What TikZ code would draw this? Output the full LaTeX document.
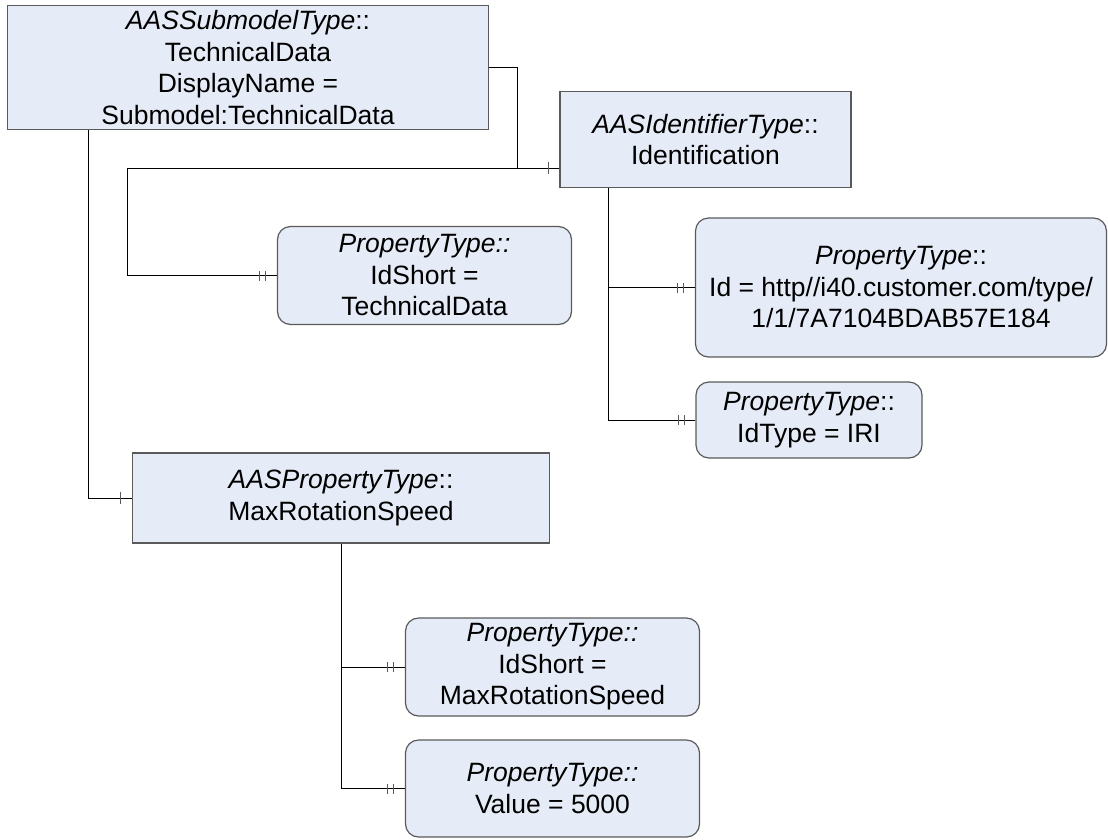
\documentclass[tikz,border=0pt]{standalone}
\usepackage{fontspec}
\setmainfont{Liberation Sans}
\usetikzlibrary{decorations.markings,calc}
\definecolor{boxfill}{HTML}{E6ECF7}
\definecolor{boxline}{HTML}{5A5A5A}
\tikzset{
  base/.style={draw=boxline, line width=1.2pt, fill=boxfill, align=center,
    inner sep=0pt, font=\fontsize{26.5}{31.5}\selectfont},
  entity/.style={base, rectangle},
  prop/.style={base, rounded corners=13pt},
  conn/.style={draw=black, line width=1pt},
  onetick/.style={postaction={decorate, decoration={markings,
    mark=at position -11pt with {\draw[line width=1pt, boxline] (0,-6pt) -- (0,6pt);}}}},
  twotick/.style={postaction={decorate, decoration={markings,
    mark=at position -11pt with {\draw[line width=1pt, boxline] (0,-5pt) -- (0,5pt);},
    mark=at position -17pt with {\draw[line width=1pt, boxline] (0,-5pt) -- (0,5pt);}}}}
}
\begin{document}
\begin{tikzpicture}[x=1pt, y=-1pt]
\useasboundingbox (0,0) rectangle (1108,839);

% nodes (centres and sizes in px)
\node[entity, minimum width=481pt, minimum height=124pt] (sub) at (248,67.5)
  {\textit{AASSubmodelType}::\\TechnicalData\\DisplayName =\\Submodel:TechnicalData};
\node[entity, minimum width=291pt, minimum height=96pt] (ident) at (705.5,139.5)
  {\textit{AASIdentifierType}::\\Identification};
\node[prop, minimum width=294pt, minimum height=98pt] (ids1) at (424.5,275.5)
  {\textit{PropertyType::}\\IdShort =\\TechnicalData};
\node[prop, minimum width=411pt, minimum height=139pt] (idb) at (901,287.5)
  {\textit{PropertyType}::\\Id = http//i40.customer.com/type/\\1/1/7A7104BDAB57E184};
\node[prop, minimum width=226pt, minimum height=76pt] (idt) at (809,420)
  {\textit{PropertyType}::\\IdType = IRI};
\node[entity, minimum width=417pt, minimum height=90pt] (maxr) at (341,498)
  {\textit{AASPropertyType}::\\MaxRotationSpeed};
\node[prop, minimum width=294pt, minimum height=98pt] (ids2) at (552.5,667)
  {\textit{PropertyType::}\\IdShort =\\MaxRotationSpeed};
\node[prop, minimum width=294pt, minimum height=97pt] (val) at (552.5,788.5)
  {\textit{PropertyType::}\\Value = 5000};

% junction points
\coordinate (j1) at (517,168);
\coordinate (k1) at (127,168);
\coordinate (s1) at (88.6,129.5);
\coordinate (i1) at (608.5,187.5);

% connectors
\draw[conn, onetick] (sub.east) -| (j1) -- (j1 -| ident.west);
\draw[conn, twotick] (j1) -- (k1) |- (ids1.west);
\draw[conn, onetick] (s1) |- (maxr.west);
\draw[conn, twotick] (i1) |- (idb.west);
\draw[conn, twotick] (i1) |- (idt.west);
\draw[conn, twotick] (maxr.south) |- (ids2.west);
\draw[conn, twotick] (maxr.south) |- (val.west);
\end{tikzpicture}
\end{document}
